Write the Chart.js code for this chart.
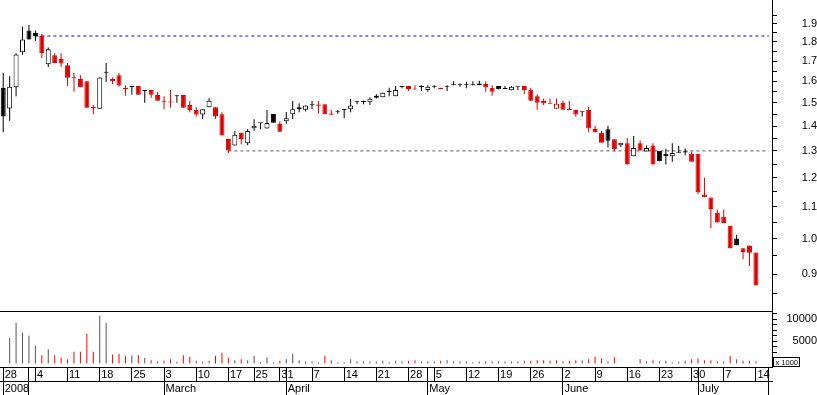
<!DOCTYPE html>
<html>
<head>
<meta charset="utf-8">
<script src="https://cdn.jsdelivr.net/npm/chart.js@4.4.0/dist/chart.umd.min.js"></script>
<style>
  html, body { margin: 0; padding: 0; background: #fff; }
</style>
</head>
<body>
<canvas id="chart" width="817" height="395"></canvas>
<script>
// trading calendar
const firstDay = '2008-01-28';
const lastDay = '2008-07-14';
const holidays = ['2008-03-21', '2008-03-24', '2008-05-01'];
const emptySlots = 2;

// daily prices
const opens = [1.569,1.476,1.572,1.745,1.862,1.848,1.832,1.684,1.730,1.710,
  1.679,1.620,1.611,1.601,1.483,1.474,1.643,1.611,1.630,1.570,
  1.578,1.578,1.556,1.559,1.536,1.508,1.506,1.531,1.536,1.491,
  1.469,1.449,1.481,1.481,1.450,1.347,1.321,1.372,1.330,1.391,
  1.412,1.390,1.451,1.409,1.420,1.450,1.481,1.470,1.490,1.493,
  1.494,1.454,1.459,1.470,1.472,1.503,1.504,1.503,1.524,1.526,
  1.550,1.531,1.573,1.578,1.563,1.573,1.559,1.574,1.570,1.574,
  1.581,1.581,1.582,1.582,1.590,1.588,1.570,1.578,1.564,1.558,
  1.574,1.578,1.559,1.531,1.509,1.499,1.474,1.501,1.471,1.469,
  1.461,1.469,1.388,1.372,1.387,1.346,1.322,1.330,1.279,1.330,
  1.298,1.321,1.300,1.289,1.279,1.293,1.299,1.289,1.289,1.141,
  1.131,1.081,1.068,1.040,1.001,0.972,0.980,0.960];
const highs = [1.642,1.625,1.740,1.885,1.894,1.862,1.844,1.770,1.740,1.740,
  1.690,1.640,1.630,1.601,1.491,1.619,1.690,1.619,1.640,1.581,
  1.578,1.578,1.559,1.559,1.551,1.531,1.559,1.534,1.536,1.509,
  1.481,1.472,1.521,1.481,1.459,1.347,1.380,1.372,1.388,1.429,
  1.413,1.469,1.451,1.419,1.460,1.509,1.499,1.489,1.509,1.509,
  1.494,1.469,1.469,1.470,1.518,1.510,1.510,1.526,1.540,1.548,
  1.570,1.578,1.578,1.578,1.582,1.582,1.582,1.582,1.570,1.582,
  1.600,1.590,1.598,1.601,1.603,1.601,1.582,1.578,1.578,1.578,
  1.574,1.578,1.570,1.540,1.520,1.520,1.520,1.509,1.509,1.469,
  1.461,1.482,1.401,1.380,1.401,1.346,1.332,1.351,1.359,1.341,
  1.321,1.330,1.300,1.308,1.330,1.320,1.309,1.298,1.289,1.200,
  1.131,1.091,1.091,1.040,1.012,0.972,0.980,0.960];
const lows = [1.374,1.423,1.531,1.732,1.813,1.805,1.715,1.670,1.690,1.670,
  1.578,1.551,1.572,1.478,1.450,1.474,1.597,1.588,1.576,1.533,
  1.537,1.537,1.501,1.524,1.510,1.472,1.479,1.501,1.479,1.459,
  1.441,1.430,1.481,1.430,1.361,1.292,1.321,1.326,1.322,1.381,
  1.387,1.390,1.414,1.377,1.410,1.430,1.459,1.462,1.472,1.452,
  1.450,1.448,1.452,1.433,1.459,1.494,1.494,1.491,1.520,1.526,
  1.531,1.531,1.567,1.555,1.562,1.555,1.551,1.567,1.563,1.555,
  1.581,1.575,1.567,1.582,1.582,1.551,1.533,1.563,1.564,1.558,
  1.559,1.541,1.510,1.470,1.491,1.497,1.474,1.470,1.469,1.441,
  1.441,1.374,1.374,1.332,1.313,1.298,1.315,1.248,1.279,1.302,
  1.298,1.248,1.260,1.248,1.259,1.293,1.283,1.259,1.142,1.132,
  1.032,1.050,1.048,0.972,0.981,0.941,0.922,0.870];
const closes = [1.441,1.574,1.733,1.813,1.813,1.832,1.740,1.761,1.690,1.688,
  1.617,1.615,1.572,1.479,1.476,1.619,1.642,1.600,1.580,1.563,
  1.572,1.537,1.555,1.537,1.510,1.505,1.502,1.530,1.479,1.469,
  1.449,1.472,1.510,1.441,1.361,1.302,1.364,1.347,1.380,1.401,
  1.412,1.413,1.414,1.377,1.433,1.472,1.473,1.489,1.490,1.488,
  1.450,1.448,1.460,1.469,1.489,1.503,1.504,1.519,1.533,1.546,
  1.550,1.559,1.573,1.564,1.562,1.573,1.574,1.574,1.563,1.574,
  1.581,1.581,1.582,1.582,1.583,1.572,1.551,1.563,1.564,1.574,
  1.574,1.559,1.510,1.501,1.499,1.497,1.496,1.470,1.469,1.449,
  1.461,1.390,1.374,1.332,1.340,1.307,1.332,1.248,1.311,1.302,
  1.311,1.248,1.260,1.279,1.292,1.293,1.294,1.259,1.149,1.132,
  1.093,1.050,1.048,0.972,0.981,0.961,0.959,0.870];
// volume in thousands
const volumes = [null,5790,9170,6920,6240,3990,1880,3230,1880,1280,
  980,2630,2630,6690,2630,10750,9170,2030,2180,1730,
  1880,1880,1280,750,450,600,980,450,1880,1500,
  600,380,600,1730,2410,1280,750,980,750,1730,
  300,1430,300,600,980,2180,750,450,450,300,
  1730,750,300,300,980,450,450,450,450,600,
  300,600,450,600,750,450,450,450,600,750,
  450,450,450,300,450,450,450,450,450,450,
  450,600,600,750,750,600,750,450,600,750,
  750,980,1500,1130,450,1430,null,null,null,980,
  450,750,450,600,300,450,600,980,1130,750,
  750,450,450,1730,980,600,600,450];

// axes
const priceTicks = [0.85,0.9,0.95,1.0,1.05,1.1,1.15,1.2,1.25,1.3,1.35,1.4,1.45,1.5,1.55,1.6,1.65,1.7,1.75,1.8,1.85,1.9,1.95];
const priceMin = 0.806, priceMax = 2.04;
const volTicks = [1250,2500,3750,5000,6250,7500,8750,10000,11250];
const volLabelled = [5000, 10000];
const volMin = -790, volMax = 11850;
const volUnitText = 'x 1000', volUnitValue = 450;
const monthNames = ['2008', '', 'March', 'April', 'May', 'June', 'July'];

// horizontal dashed levels
const upperLevel = 1.832, upperFrom = 5;
const lowerLevel = 1.30, lowerFrom = 35;

const RED = '#dc0000';
const VOL_RED = '#ff0000';
const VOL_GREY = '#555555';
const FONT = '"Liberation Sans", Arial, sans-serif';
const CLEAR = 'rgba(0,0,0,0)';

// build the list of trading days
const days = [];
for (let d = new Date(firstDay + 'T00:00:00Z'); d <= new Date(lastDay + 'T00:00:00Z'); d.setUTCDate(d.getUTCDate() + 1)) {
    const wd = d.getUTCDay();
    const iso = d.toISOString().slice(0, 10);
    if (wd === 0 || wd === 6 || holidays.includes(iso)) continue;
    days.push(new Date(d.getTime()));
}
const labels = days.map(d => d.toISOString().slice(0, 10));
for (let k = 0; k < emptySlots; k++) labels.push('');
const lastSlot = labels.length - 1;

function mondayOf(d) {
    return d.getTime() - ((d.getUTCDay() + 6) % 7) * 86400000;
}
const weekStart = days.map((d, i) => i === 0 || mondayOf(d) !== mondayOf(days[i - 1]));
const monthStart = days.map((d, i) => i === 0 || d.getUTCMonth() !== days[i - 1].getUTCMonth());

// candle colours: hollow when close > open, red when close below previous close
const candleColor = closes.map((c, i) => (i > 0 && c < closes[i - 1]) ? RED : '#000');
const bodyFill = closes.map((c, i) => c > opens[i] ? '#fff' : candleColor[i]);
const volColor = closes.map((c, i) => (i > 0 && c < closes[i - 1]) ? VOL_RED : VOL_GREY);

const wickData = lows.map((l, i) => [l, highs[i]]);
const bodyData = opens.map((o, i) => [Math.min(o, closes[i]), Math.max(o, closes[i])]);
const upperData = labels.map((_, i) => i >= upperFrom ? upperLevel : null);
const lowerData = labels.map((_, i) => i >= lowerFrom ? lowerLevel : null);

function noPadding(scale) {
    scale.paddingTop = 0;
    scale.paddingBottom = 0;
    scale.paddingLeft = 0;
    scale.paddingRight = 0;
}

const unitBox = {
    id: 'unitBox',
    afterDraw(chart) {
        const s = chart.scales.yVol;
        const ctx = chart.ctx;
        const y = Math.round(s.getPixelForValue(volUnitValue));
        ctx.save();
        ctx.strokeStyle = '#000';
        ctx.lineWidth = 1;
        ctx.strokeRect(s.left + 1.5, y - 4.5, 26, 9);
        ctx.fillStyle = '#000';
        ctx.font = '7.5px ' + FONT;
        ctx.textBaseline = 'middle';
        ctx.textAlign = 'left';
        ctx.fillText(volUnitText, s.left + 3.5, y + 0.5);
        ctx.restore();
    }
};

Chart.defaults.font.family = FONT;
Chart.defaults.color = '#000';

new Chart(document.getElementById('chart'), {
    type: 'bar',
    data: {
        labels: labels,
        datasets: [
            {
                type: 'line', data: upperData, yAxisID: 'yPrice', xAxisID: 'x',
                borderColor: '#0000ff', borderWidth: 1, borderDash: [3, 3],
                pointRadius: 0, order: 5
            },
            {
                type: 'line', data: lowerData, yAxisID: 'yPrice', xAxisID: 'x',
                borderColor: '#555555', borderWidth: 1, borderDash: [3, 3],
                pointRadius: 0, order: 5
            },
            {
                data: wickData, yAxisID: 'yPrice', xAxisID: 'x',
                backgroundColor: candleColor, borderWidth: 0,
                barThickness: 1, grouped: false, inflateAmount: 0, order: 2
            },
            {
                data: bodyData, yAxisID: 'yPrice', xAxisID: 'x',
                backgroundColor: bodyFill, borderColor: candleColor, borderWidth: 1,
                borderSkipped: false, barThickness: 5, minBarLength: 1,
                grouped: false, inflateAmount: 0, order: 1
            },
            {
                data: volumes, yAxisID: 'yVol', xAxisID: 'x',
                backgroundColor: volColor, borderWidth: 0,
                barThickness: 1, grouped: false, inflateAmount: 0, order: 1
            }
        ]
    },
    options: {
        responsive: false,
        animation: false,
        events: [],
        layout: { padding: 0 },
        plugins: { legend: { display: false }, tooltip: { enabled: false } },
        scales: {
            x: {
                type: 'category', position: 'bottom', weight: 0, offset: true,
                afterFit: s => { s.height = 14; noPadding(s); },
                border: { display: true, color: '#000' },
                grid: {
                    offset: false, drawOnChartArea: false, drawTicks: true, tickLength: 14,
                    color: CLEAR,
                    tickColor: ctx => (weekStart[ctx.index] || monthStart[ctx.index] || ctx.index === lastSlot) ? '#000' : CLEAR
                },
                ticks: {
                    autoSkip: false, maxRotation: 0, minRotation: 0,
                    align: 'start', labelOffset: 1.5, padding: -12.5,
                    font: { size: 11 },
                    callback: (v, i) => weekStart[i] ? String(days[i].getUTCDate()) : ''
                }
            },
            x2: {
                type: 'category', position: 'bottom', weight: 1, offset: true,
                afterFit: s => { s.height = 14; noPadding(s); },
                border: { display: true, color: '#000' },
                grid: {
                    offset: false, drawOnChartArea: false, drawTicks: true, tickLength: 14,
                    color: CLEAR,
                    tickColor: ctx => (monthStart[ctx.index] || ctx.index === lastSlot) ? '#000' : CLEAR
                },
                ticks: {
                    autoSkip: false, maxRotation: 0, minRotation: 0,
                    align: 'start', labelOffset: 1.5, padding: -12.5,
                    font: { size: 11 },
                    callback: (v, i) => monthStart[i] ? monthNames[days[i].getUTCMonth()] : ''
                }
            },
            yPrice: {
                type: 'logarithmic', position: 'right', stack: 'panels', stackWeight: 311,
                weight: 0, stacked: false, beginAtZero: false,
                min: priceMin, max: priceMax,
                afterBuildTicks: s => { s.ticks = priceTicks.map(v => ({ value: v })); },
                afterFit: s => { s.width = 45; noPadding(s); },
                border: { display: true, color: '#000' },
                grid: { drawOnChartArea: false, drawTicks: true, tickLength: 5, color: '#000' },
                ticks: {
                    autoSkip: false, crossAlign: 'far', padding: 20,
                    font: { size: 11 },
                    callback: v => Math.round(v * 100) % 10 === 0 ? v.toFixed(1) : ''
                }
            },
            yVol: {
                type: 'linear', position: 'right', stack: 'panels', stackWeight: 56,
                weight: 1, stacked: false,
                min: volMin, max: volMax,
                afterBuildTicks: s => { s.ticks = volTicks.concat([volMax]).map(v => ({ value: v })); },
                afterFit: s => { s.width = 45; noPadding(s); },
                border: { display: true, color: '#000' },
                grid: {
                    drawOnChartArea: true, drawTicks: true, tickLength: 5,
                    color: ctx => ctx.tick && ctx.tick.value === volMax ? '#000' : CLEAR,
                    tickColor: ctx => ctx.tick && ctx.tick.value === volMax ? CLEAR : '#000'
                },
                ticks: {
                    autoSkip: false, crossAlign: 'far', padding: 5,
                    font: { size: 11 },
                    callback: v => volLabelled.includes(v) ? String(v) : ''
                }
            }
        }
    },
    plugins: [unitBox]
});
</script>
</body>
</html>
